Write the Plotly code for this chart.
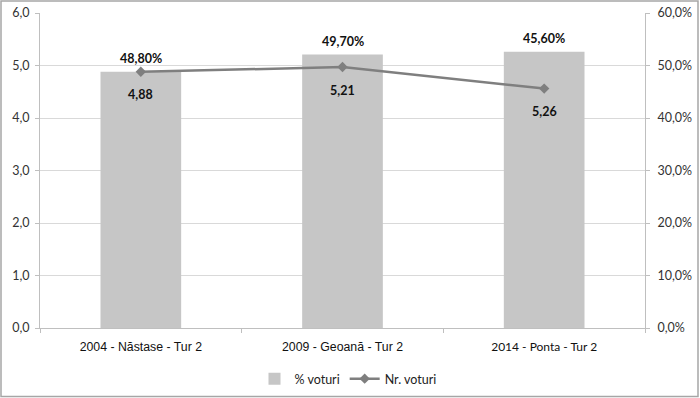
import plotly.graph_objects as go

categories = ["2004 - Năstase - Tur 2", "2009 - Geoană - Tur 2", "2014 - Ponta - Tur 2"]
bar_values = [4.88, 5.21, 5.26]
bar_labels = ["48,80%", "49,70%", "45,60%"]
line_values = [0.488, 0.497, 0.456]
line_labels = ["4,88", "5,21", "5,26"]
tick_text = [
    "2004 - Năstase - Tur 2",
    "2009 - Geoană - Tur 2",
    "<span style='font-family:Lato;font-size:12px'>2014 - Ponta - Tur 2</span>",
]

W, H = 700, 398
L, R, T, B = 40, 55, 13, 70
pw, ph = W - L - R, H - T - B

def px_x(p):
    return (p - L) / pw

def px_y(p):
    return (H - B - p) / ph

LABEL_FONT = dict(family="Lato", size=12.5, color="#111111")

fig = go.Figure()
fig.add_trace(go.Bar(
    x=categories, y=bar_values, name="% voturi",
    marker=dict(color="#c6c6c6", line=dict(width=0)),
    hoverinfo="skip",
))
fig.add_trace(go.Scatter(
    x=categories, y=line_values, name="Nr. voturi", yaxis="y2",
    mode="lines+markers",
    line=dict(color="#7f7f7f", width=2.5),
    marker=dict(symbol="diamond", size=8, color="#7f7f7f"),
    hoverinfo="skip",
))
for c, v, t in zip(categories, bar_values, bar_labels):
    fig.add_annotation(x=c, y=v, yref="y", text="<b>%s</b>" % t, showarrow=False,
                       yanchor="middle", yshift=13, font=LABEL_FONT)
for c, v, t in zip(categories, line_values, line_labels):
    fig.add_annotation(x=c, y=v, yref="y2", text="<b>%s</b>" % t, showarrow=False,
                       yanchor="middle", yshift=-23, font=LABEL_FONT)

fig.add_shape(type="rect", xref="paper", yref="paper",
              x0=px_x(1), x1=px_x(698), y0=px_y(396.5), y1=px_y(1),
              line=dict(color="#a6a6a6", width=1.5), fillcolor="rgba(0,0,0,0)", layer="below")

fig.update_layout(
    width=W, height=H, margin=dict(l=L, r=R, t=T, b=B, autoexpand=False),
    paper_bgcolor="white", plot_bgcolor="white",
    separators=",.",
    bargap=0.6,
    showlegend=True,
    legend=dict(orientation="h", x=px_x(348), xanchor="center", y=px_y(379), yanchor="middle",
                font=dict(family="Lato", size=12.5, color="#222222"), traceorder="normal",
                itemwidth=30),
    xaxis=dict(
        tickmode="array", tickvals=categories, ticktext=tick_text, automargin=False,
        tickson="boundaries", ticks="outside", ticklen=4, tickcolor="#bfbfbf",
        ticklabelstandoff=7,
        showline=True, linecolor="#bfbfbf", linewidth=1, showgrid=False,
        tickfont=dict(family="Liberation Sans", size=12.3, color="#111111"),
    ),
    yaxis=dict(
        range=[0, 6], dtick=1, tickformat=".1f", automargin=False,
        showgrid=True, gridcolor="#d9d9d9", gridwidth=1,
        showline=True, linecolor="#bfbfbf", linewidth=1,
        ticks="outside", ticklen=4, tickcolor="#bfbfbf", ticklabelstandoff=3,
        tickfont=dict(family="Lato", size=12.5, color="#333333"),
        zeroline=False,
    ),
    yaxis2=dict(
        range=[0, 0.6], dtick=0.1, tickformat=".1%", overlaying="y", side="right",
        automargin=False,
        showgrid=False, showline=True, linecolor="#bfbfbf", linewidth=1,
        ticks="outside", ticklen=4, tickcolor="#bfbfbf", ticklabelstandoff=5,
        tickfont=dict(family="Lato", size=12.5, color="#333333"),
        zeroline=False,
    ),
)

fig.write_html("out.html", config={"displayModeBar": False},
               post_script="document.body.style.margin='0';document.body.style.overflow='hidden';")
